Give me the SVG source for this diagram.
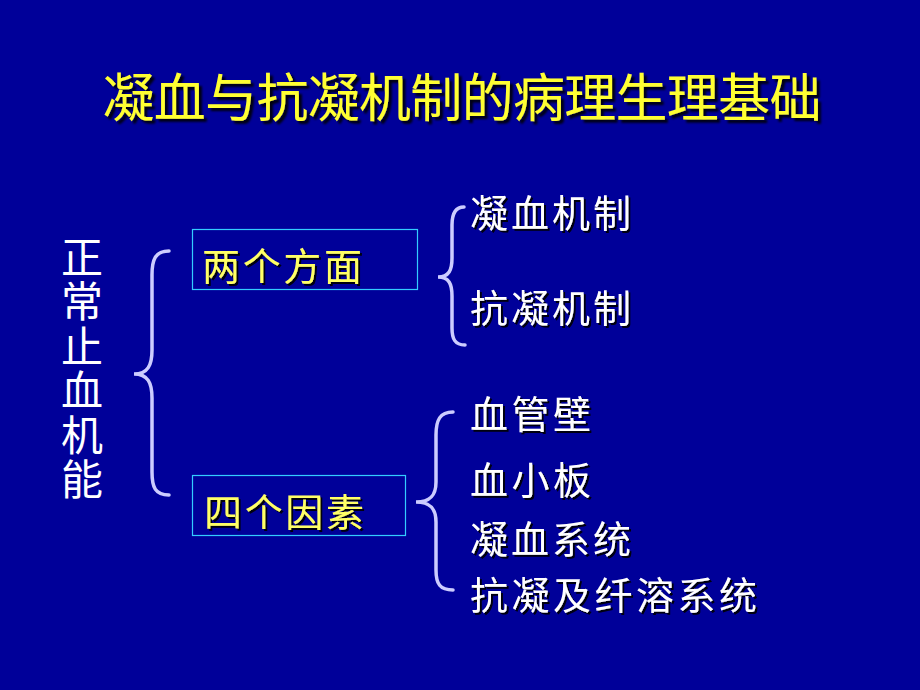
<svg xmlns="http://www.w3.org/2000/svg" width="920" height="690" viewBox="0 0 920 690">
<defs>
<style>
.t{font-family:"Noto Sans CJK SC","Noto Sans",sans-serif;}
.title{fill:#ffff33;font-size:52px;}
.yl{fill:#ffff66;font-size:38px;}
.wh{fill:#ffffff;font-size:38px;}
.box{fill:none;stroke:#33ccff;stroke-width:1.2;}
.br{fill:none;stroke:#ccccff;stroke-width:3.5;stroke-linecap:round;}
.vert{writing-mode:vertical-rl;font-size:42px;letter-spacing:2.5px;}
</style>
<filter id="shadow" x="-5%" y="-20%" width="110%" height="140%">
<feDropShadow dx="2" dy="2" stdDeviation="0.6" flood-color="#000000" flood-opacity="0.9"/>
</filter>
<filter id="shadowT" x="-5%" y="-20%" width="110%" height="140%">
<feDropShadow dx="3" dy="3" stdDeviation="0.8" flood-color="#000000" flood-opacity="0.9"/>
</filter>
</defs>
<rect width="920" height="690" fill="#000099"/>
<g id="title">
<text class="t title" x="462" y="117" text-anchor="middle" textLength="719" filter="url(#shadowT)">凝血与抗凝机制的病理生理基础</text>
</g>
<g id="root">
<text class="t wh vert" x="82" y="236">正常止血机能</text>
</g>
<g id="connectors">
<path class="br" d="M169,251 C155,251 152,260 152,275 L152,350 C152,365 148,374 134,374 C148,374 152,383 152,398 L152,472 C152,487 155,495 169,495"/>
<path class="br" d="M464,207 C455,207 452,214 452,225 L452,258 C452,270 449,277 438,277 C449,277 452,284 452,296 L452,328 C452,339 455,345 465,345"/>
<path class="br" d="M453,412 C440,412 436,420 436,435 L436,482 C436,496 430,502 416,502 C430,502 436,508 436,522 L436,570 C436,584 440,590 453,590"/>
</g>
<g id="box1">
<rect class="box" x="192.5" y="229.5" width="225" height="60"/>
<text class="t yl" x="202" y="280" textLength="160" filter="url(#shadow)">两个方面</text>
</g>
<g id="box2">
<rect class="box" x="192.5" y="475.5" width="213" height="60"/>
<text class="t yl" x="204" y="526" textLength="160" filter="url(#shadow)">四个因素</text>
</g>
<g id="n1">
<text class="t wh" x="470" y="227" textLength="161" filter="url(#shadow)">凝血机制</text>
</g>
<g id="n2">
<text class="t wh" x="470" y="322" textLength="161" filter="url(#shadow)">抗凝机制</text>
</g>
<g id="n3">
<text class="t wh" x="470" y="428" textLength="121" filter="url(#shadow)">血管壁</text>
</g>
<g id="n4">
<text class="t wh" x="470" y="494" textLength="121" filter="url(#shadow)">血小板</text>
</g>
<g id="n5">
<text class="t wh" x="470" y="553" textLength="161" filter="url(#shadow)">凝血系统</text>
</g>
<g id="n6">
<text class="t wh" x="470" y="609" textLength="287" filter="url(#shadow)">抗凝及纤溶系统</text>
</g>
</svg>
